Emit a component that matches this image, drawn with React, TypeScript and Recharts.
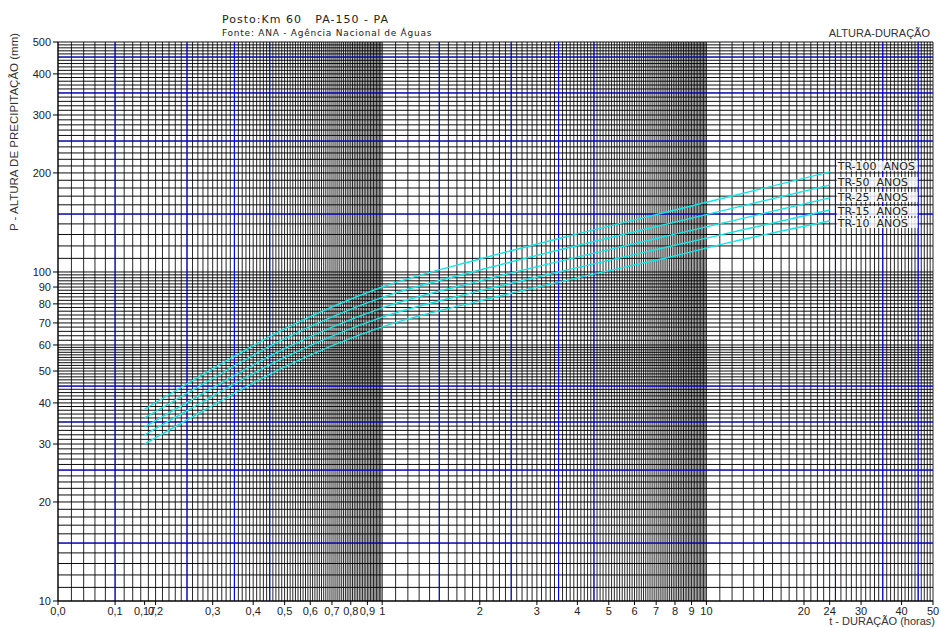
import React from 'react'
import { LineChart, Line, XAxis, YAxis, ReferenceLine } from 'recharts'

// duração (h) e altura de precipitação (mm) por período de retorno
const DURATIONS = [0.185, 0.25, 0.5, 1, 2, 4, 8, 12, 24]
const TR100 = [38.3, 45.7, 67.1, 90.0, 109.5, 130.5, 154.3, 170.2, 201.4]
const TR50 = [36.0, 42.8, 62.7, 83.7, 101.4, 120.4, 141.8, 156.1, 183.8]
const TR25 = [33.8, 40.1, 58.5, 77.8, 94.0, 111.0, 130.3, 143.0, 167.9]
const TR15 = [32.0, 37.9, 55.0, 72.9, 87.6, 103.1, 120.6, 132.0, 154.3]
const TR10 = [30.0, 35.5, 51.5, 68.1, 81.7, 96.0, 112.0, 123.4, 142.9]

const X_TICKS = [0.1, 0.15, 0.185, 0.2, 0.3, 0.4, 0.5, 0.6, 0.7, 0.8, 0.9, 1, 2, 3, 4, 5, 6, 7, 8, 9, 10, 20, 24, 30, 40, 50]
const X_TICK_LABELS = ['0,0', '0,1', '0,17', '0,2', '0,3', '0,4', '0,5', '0,6', '0,7', '0,8', '0,9', '1', '2', '3', '4', '5', '6', '7', '8', '9', '10', '20', '24', '30', '40', '50']
const Y_TICKS = [10, 20, 30, 40, 50, 60, 70, 80, 90, 100, 200, 300, 400, 500]

const BLUE_X = [0.15, 0.25, 0.35, 0.45, 1.5, 2.5, 3.5, 4.5, 15, 25, 35, 45]
const BLUE_Y = [15, 25, 35, 45, 150, 250, 350, 450]

function steps(from: number, to: number, step: number) {
  const out: number[] = []
  const n = Math.round((to - from) / step)
  for (let i = 0; i <= n; i++) out.push(+(from + i * step).toFixed(3))
  return out
}

const GRID_X = [...steps(0.1, 1, 0.01), ...steps(1.1, 10, 0.1), ...steps(11, 50, 1)]
const GRID_Y = [...steps(10, 60, 1), ...steps(62, 100, 2), ...steps(110, 500, 10)]

const SERIES = [
  { key: 'tr100', name: 'TR-100  ANOS', values: TR100, boxTop: -11 },
  { key: 'tr50', name: 'TR-50  ANOS', values: TR50, boxTop: -8 },
  { key: 'tr25', name: 'TR-25  ANOS', values: TR25, boxTop: -6 },
  { key: 'tr15', name: 'TR-15  ANOS', values: TR15, boxTop: -4 },
  { key: 'tr10', name: 'TR-10  ANOS', values: TR10, boxTop: -3 },
]

const rows = DURATIONS.map((t, i) => {
  const row: Record<string, number> = { t }
  for (const s of SERIES) row[s.key] = s.values[i]
  return row
})

const endLabel = (name: string, boxTop: number) => (props: any) => {
  const { x, y, index } = props
  if (index !== DURATIONS.length - 1) return null
  return (
    <g>
      <rect x={x + 7} y={y + boxTop} width={81} height={10} fill="#fff" fillOpacity={0.82} />
      <text x={x + 8} y={y + boxTop + 9} fontSize={11} fontFamily="DejaVu Sans" fill="#222" style={{ whiteSpace: 'pre' }}>
        {name}
      </text>
    </g>
  )
}

const tickFont = { fontSize: 11, fill: '#222', fontFamily: 'Liberation Sans, Arial, sans-serif' }

export default function App() {
  return (
    <div style={{ position: 'absolute', left: 0, top: 0, width: 941, height: 628, background: '#fff' }}>
      <LineChart width={941} height={628} data={rows} margin={{ top: 42, right: 8, bottom: 7, left: 8 }}>
        <XAxis
          dataKey="t"
          type="number"
          scale="log"
          domain={[0.1, 50]}
          allowDataOverflow
          ticks={X_TICKS}
          interval={0}
          tickFormatter={(v: number) => X_TICK_LABELS[X_TICKS.indexOf(v)] ?? ''}
          tick={tickFont}
          tickSize={4}
          height={20}
          stroke="#000"
        />
        <YAxis
          type="number"
          scale="log"
          domain={[10, 500]}
          allowDataOverflow
          ticks={Y_TICKS}
          interval={0}
          tick={tickFont}
          tickSize={5}
          width={50}
          stroke="#000"
        />
        {GRID_X.map((v) => (
          <ReferenceLine key={'gx' + v} x={v} stroke="#000" strokeWidth={0.85} />
        ))}
        {GRID_Y.map((v) => (
          <ReferenceLine key={'gy' + v} y={v} stroke="#000" strokeWidth={0.95} />
        ))}
        {BLUE_X.map((v) => (
          <ReferenceLine key={'bx' + v} x={v} stroke="#0000ff" strokeWidth={1} />
        ))}
        {BLUE_Y.map((v) => (
          <ReferenceLine key={'by' + v} y={v} stroke="#0000ff" strokeWidth={1} />
        ))}
        {SERIES.map((s) => (
          <Line
            key={s.key}
            dataKey={s.key}
            name={s.name}
            type="monotone"
            stroke="#14e6e6"
            strokeWidth={1.4}
            dot={false}
            isAnimationActive={false}
            label={endLabel(s.name, s.boxTop)}
          />
        ))}
      </LineChart>
      <svg width={941} height={628} style={{ position: 'absolute', left: 0, top: 0, pointerEvents: 'none' }}>
        <text x={222} y={23} fontSize={11} fontFamily="DejaVu Sans" fill="#222" letterSpacing={1} style={{ whiteSpace: 'pre' }}>
          {'Posto:Km 60   PA-150 - PA'}
        </text>
        <text x={222} y={36} fontSize={9} fontFamily="DejaVu Sans" fill="#222" letterSpacing={0.75}>
          Fonte: ANA - Agência Nacional de Águas
        </text>
        <text x={930} y={37} textAnchor="end" {...tickFont} fill="#333">
          ALTURA-DURAÇÃO
        </text>
        <text x={935} y={625} textAnchor="end" {...tickFont} fill="#333">
          t - DURAÇÃO (horas)
        </text>
        <text x={18} y={132} textAnchor="middle" transform="rotate(-90 18 132)" {...tickFont} fontSize={11.5} fill="#333">
          P - ALTURA DE PRECIPITAÇÃO (mm)
        </text>
      </svg>
    </div>
  )
}
